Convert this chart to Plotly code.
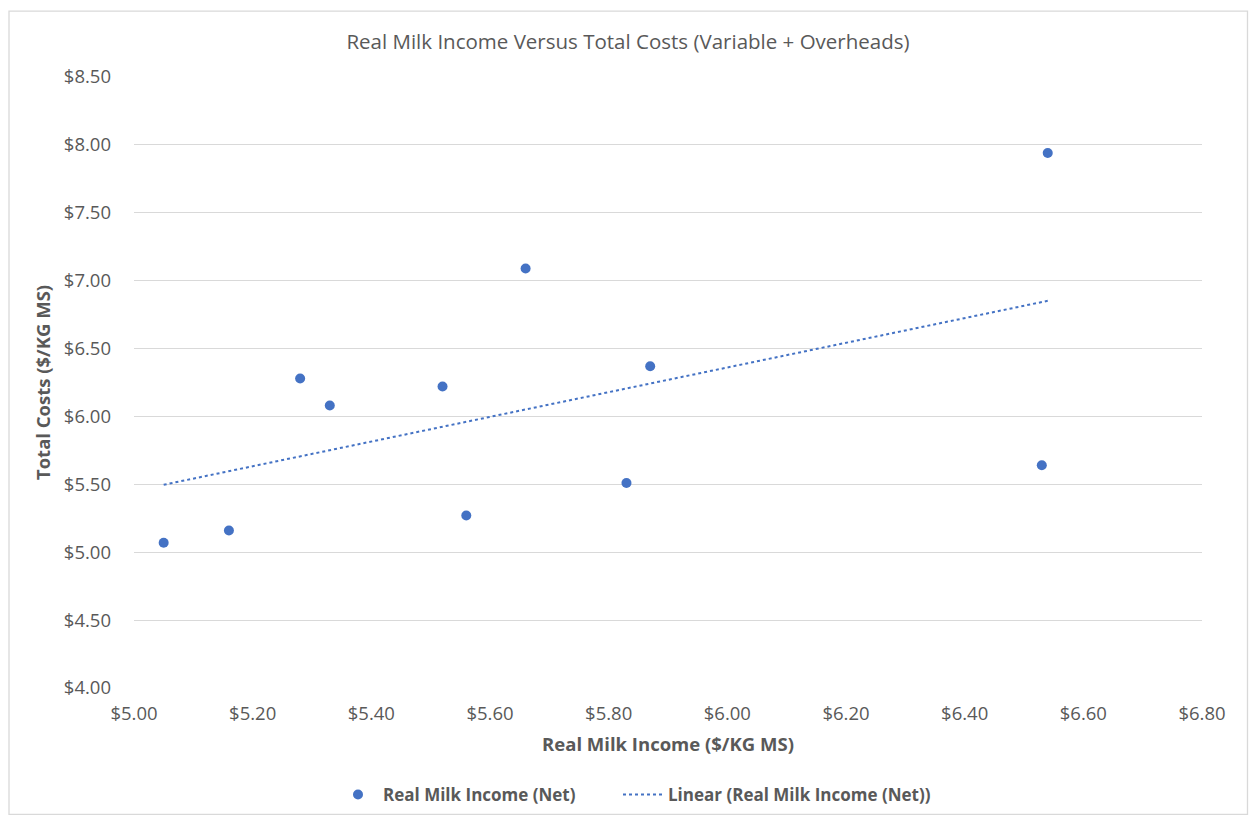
import numpy as np
import plotly.graph_objects as go

# Real milk income vs total costs, $/KG MS
income = [5.05, 5.16, 5.28, 5.33, 5.52, 5.56, 5.66, 5.83, 5.87, 6.53, 6.54]
costs = [5.07, 5.16, 6.28, 6.08, 6.22, 5.27, 7.09, 5.51, 6.37, 5.64, 7.94]

x_ticks = [5.0, 5.2, 5.4, 5.6, 5.8, 6.0, 6.2, 6.4, 6.6, 6.8]
y_ticks = [4.0, 4.5, 5.0, 5.5, 6.0, 6.5, 7.0, 7.5, 8.0, 8.5]

BLUE = "#4472C4"
GREY = "#595959"
GRID = "#D9D9D9"
FONT = "Open Sans"

# least-squares trendline across the observed income range
slope, intercept = np.polyfit(income, costs, 1)
trend_x = [min(income), max(income)]
trend_y = [slope * v + intercept for v in trend_x]

fig = go.Figure()
fig.add_trace(go.Scatter(
    x=income, y=costs, mode="markers",
    name="<b>Real Milk Income (Net)</b>",
    marker=dict(color=BLUE, size=10, line=dict(width=0)),
    legend="legend",
))
fig.add_trace(go.Scatter(
    x=trend_x, y=trend_y, mode="lines",
    name="<b>Linear (Real Milk Income (Net))</b>",
    line=dict(color=BLUE, width=2, dash="dot"),
    legend="legend2",
))

L, R, T, B = 134, 47, 77, 127.5
W, H = 1249, 816
pw, ph = W - L - R, H - T - B

legend_common = dict(
    orientation="h", xref="container", yref="container",
    xanchor="left", y=1 - 795 / H, yanchor="middle",
    font=dict(size=17, color=GREY), itemwidth=40,
    bgcolor="rgba(0,0,0,0)",
)

fig.update_layout(
    width=W, height=H,
    margin=dict(l=L, r=R, t=T, b=B),
    paper_bgcolor="white", plot_bgcolor="white",
    font=dict(family=FONT, color=GREY, size=18.5),
    title=dict(
        text="Real Milk Income Versus Total Costs (Variable + Overheads)",
        x=(628 - L) / pw, xanchor="center", y=1 - 42 / H, yanchor="middle",
        xref="paper",
        font=dict(size=20.5, color=GREY, family=FONT),
    ),
    xaxis=dict(
        range=[5.0, 6.8], tickvals=x_ticks,
        ticktext=[f"${v:.2f}" for v in x_ticks],
        showgrid=False, zeroline=False, showline=False,
        ticks="", ticklabelstandoff=12, automargin=False,
        tickfont=dict(size=18.5, color=GREY),
        title=dict(text="<b>Real Milk Income ($/KG MS)</b>", standoff=14,
                   font=dict(size=18.5, color=GREY)),
    ),
    yaxis=dict(
        range=[4.0, 8.5], tickvals=y_ticks,
        ticktext=[f"${v:.2f}" for v in y_ticks],
        showgrid=True, gridcolor=GRID, gridwidth=1.3,
        zeroline=False, showline=False,
        ticks="", ticklabelstandoff=22, automargin=False,
        tickfont=dict(size=18.5, color=GREY),
        title=dict(text="<b>Total Costs ($/KG MS)</b>", standoff=8,
                   font=dict(size=18.5, color=GREY)),
    ),
    legend=dict(x=333 / W, **legend_common),
    legend2=dict(x=618 / W, **legend_common),
    showlegend=True,
)

# outer chart border
fig.add_shape(
    type="rect", xref="paper", yref="paper",
    x0=(9 - L) / pw, x1=(1247.5 - L) / pw,
    y0=(T + ph - 815) / ph, y1=(T + ph - 11) / ph,
    line=dict(color="#D9D9D9", width=1.3), fillcolor="rgba(0,0,0,0)",
    layer="below",
)

fig.write_html("out.html")
